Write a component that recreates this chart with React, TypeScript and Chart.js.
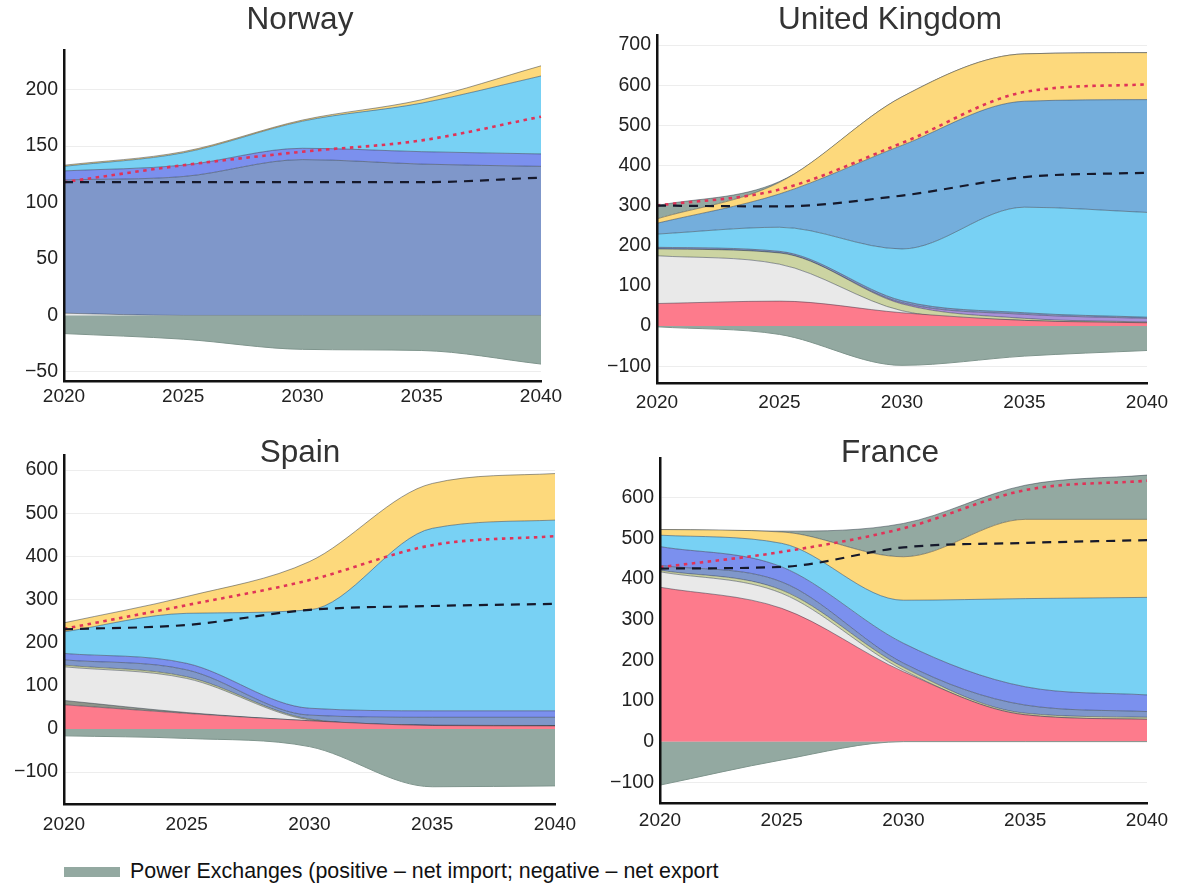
import React, { useEffect, useRef } from "react";
import { Chart, registerables } from "chart.js";

Chart.register(...registerables);
const FONT_FAMILY = "'Liberation Sans', Arial, sans-serif";
Chart.defaults.font.family = FONT_FAMILY;

// Years on the horizontal axis
const years = ["2020", "2025", "2030", "2035", "2040"];

// Norway (TWh)
const noGas = [2, 0, 0, 0, 0];
const noHydro = [118, 123, 138, 134, 132];
const noStorage = [8, 10, 10, 11, 11];
const noWindOn = [4, 11, 24, 43, 69];
const noSolar = [1, 1, 1, 3, 9];
const noExport = [-16, -21, -30, -31, -43];
const noDemand = [118, 118, 118, 118, 122];
const noDemandHigh = [118, 133, 145, 155, 176];
const noTicks = [-50, 0, 50, 100, 150, 200];

// United Kingdom (TWh)
const ukNuclear = [56, 62, 33, 14, 8];
const ukGas = [119, 92, 5, 0, 0];
const ukBiomass = [17, 28, 17, 5, 2];
const ukOther = [0, 0, 3, 10, 9];
const ukHydro = [4, 4, 5, 4, 3];
const ukWindOn = [33, 60, 129, 263, 261];
const ukWindOff = [27, 83, 258, 264, 281];
const ukSolar = [11, 29, 121, 118, 117];
const ukImport = [33, 2, 0, 0, 0];
const ukExport = [-2, -21, -98, -75, -61];
const ukDemand = [300, 298, 325, 371, 382];
const ukDemandHigh = [300, 340, 456, 583, 602];
const ukTicks = [-100, 0, 100, 200, 300, 400, 500, 600, 700];

// Spain (TWh)
const esNuclear = [56, 36, 19, 8, 7];
const esCoal = [10, 2, 0, 0, 0];
const esGas = [78, 79, 2, 0, 0];
const esBiomass = [4, 4, 2, 1, 1];
const esHydro = [12, 16, 9, 18, 19];
const esStorage = [15, 15, 16, 15, 15];
const esWindOn = [50, 116, 228, 423, 442];
const esSolar = [21, 39, 112, 104, 108];
const esExport = [-16, -22, -41, -134, -132];
const esDemand = [231, 241, 276, 285, 290];
const esDemandHigh = [232, 287, 345, 426, 447];
const esTicks = [-100, 0, 100, 200, 300, 400, 500, 600];

// France (TWh)
const frNuclear = [380, 328, 172, 66, 55];
const frGas = [38, 37, 4, 0, 0];
const frBiomass = [4, 8, 7, 4, 5];
const frHydro = [12, 20, 10, 20, 14];
const frStorage = [46, 37, 49, 45, 41];
const frWindOn = [28, 58, 106, 217, 240];
const frSolar = [14, 28, 107, 195, 192];
const frImport = [0, 2, 82, 84, 109];
const frExport = [-107, -45, 0, 0, 0];
const frDemand = [426, 430, 478, 489, 496];
const frDemandHigh = [429, 467, 525, 619, 642];
const frTicks = [-100, 0, 100, 200, 300, 400, 500, 600];

const COLORS = {
  exchange: "#93a9a1",
  nuclear: "#fd7b8c",
  coal: "#8e948a",
  gas: "#e9e9e9",
  biomass: "#ccd4a2",
  other: "#a891d8",
  hydro: "#7f97ca",
  storage: "#7b90ee",
  windOn: "#78d1f4",
  windOff: "#74aedc",
  solar: "#fdd97c",
};

const EDGE = "rgba(45,55,70,0.55)";
const LEGEND_TEXT = "Power Exchanges (positive \u2013 net import; negative \u2013 net export";

// Panel heading drawn at a fixed point of the canvas, so it can sit over the plot's top edge
const panelTitle = {
  id: "panelTitle",
  afterDraw(chart: any, _args: any, opts: any) {
    if (!opts || !opts.text) return;
    const ctx = chart.ctx;
    ctx.save();
    ctx.font = `normal ${opts.size}px ${FONT_FAMILY}`;
    ctx.fillStyle = opts.color;
    ctx.textAlign = "center";
    ctx.textBaseline = "middle";
    ctx.fillText(opts.text, opts.x, opts.y);
    ctx.restore();
  },
};

type Series = { label: string; data: number[]; color: string };

type PanelSpec = {
  title: string;
  left: number;
  top: number;
  width: number;
  height: number;
  titleY: number;
  plotTop: number;
  yAxisWidth: number;
  xAxisHeight: number;
  xLabelPad: number;
  padRight: number;
  min: number;
  max: number;
  ticks: number[];
  stack: Series[];
  exports: number[];
  demand: number[];
  demandHigh: number[];
};

const fmt = (v: number) => (v < 0 ? "\u2212" + Math.abs(v) : String(v));

function buildConfig(p: PanelSpec): any {
  const lineBase = {
    fill: false,
    pointRadius: 0,
    cubicInterpolationMode: "monotone",
  };
  const datasets: any[] = [
    {
      ...lineBase,
      label: "Demand",
      data: p.demand,
      stack: "demand",
      borderColor: "#16192b",
      borderWidth: 2.2,
      borderDash: [9, 7],
    },
    {
      ...lineBase,
      label: "Demand (electrification)",
      data: p.demandHigh,
      stack: "demandHigh",
      borderColor: "#e03358",
      borderWidth: 2.6,
      borderDash: [3.5, 4.5],
    },
    {
      label: "Power Exchanges",
      data: p.exports,
      stack: "exports",
      fill: "origin",
      backgroundColor: COLORS.exchange,
      borderColor: "#7f958d",
      borderWidth: 1,
      pointRadius: 0,
      cubicInterpolationMode: "monotone",
    },
  ];
  p.stack.forEach((s, i) => {
    datasets.push({
      label: s.label,
      data: s.data,
      stack: "mix",
      fill: i === 0 ? "origin" : "-1",
      backgroundColor: s.color,
      borderColor: EDGE,
      borderWidth: 0.9,
      pointRadius: 0,
      cubicInterpolationMode: "monotone",
    });
  });

  return {
    type: "line",
    data: { labels: years, datasets },
    plugins: [panelTitle],
    options: {
      responsive: false,
      animation: false,
      events: [],
      layout: { padding: { left: 0, right: p.padRight, top: p.plotTop, bottom: 0 } },
      plugins: {
        legend: { display: false },
        tooltip: { enabled: false },
        title: { display: false },
        panelTitle: {
          text: p.title,
          x: p.width / 2,
          y: p.titleY,
          size: 31.5,
          color: "#333333",
        },
      },
      scales: {
        x: {
          grid: { display: false, drawTicks: false },
          border: { display: true, color: "#111111", width: 2.5, z: 1 },
          ticks: {
            color: "#222222",
            font: { size: 19 },
            padding: p.xLabelPad,
            maxRotation: 0,
            autoSkip: false,
          },
          afterFit: (s: any) => {
            s.height = p.xAxisHeight;
          },
        },
        y: {
          stacked: true,
          min: p.min,
          max: p.max,
          afterBuildTicks: (s: any) => {
            s.ticks = p.ticks.map((v) => ({ value: v }));
          },
          afterFit: (s: any) => {
            s.width = p.yAxisWidth;
          },
          grid: { color: "#ededed", lineWidth: 1, drawTicks: false },
          border: { display: true, color: "#111111", width: 2.5, z: 1 },
          ticks: {
            color: "#222222",
            font: { size: 19.5 },
            padding: 6,
            callback: (v: any) => fmt(Number(v)),
          },
        },
      },
    },
  };
}

const panels: PanelSpec[] = [
  {
    title: "Norway",
    left: 0,
    top: 0,
    width: 600,
    height: 420,
    titleY: 20,
    plotTop: 50,
    yAxisWidth: 64,
    xAxisHeight: 39,
    xLabelPad: 4,
    padRight: 59,
    min: -58,
    max: 235,
    ticks: noTicks,
    stack: [
      { label: "Gas", data: noGas, color: COLORS.gas },
      { label: "Hydro", data: noHydro, color: COLORS.hydro },
      { label: "Storage", data: noStorage, color: COLORS.storage },
      { label: "Wind", data: noWindOn, color: COLORS.windOn },
      { label: "Solar", data: noSolar, color: COLORS.solar },
    ],
    exports: noExport,
    demand: noDemand,
    demandHigh: noDemandHigh,
  },
  {
    title: "United Kingdom",
    left: 590,
    top: 0,
    width: 600,
    height: 420,
    titleY: 20,
    plotTop: 35,
    yAxisWidth: 67,
    xAxisHeight: 37,
    xLabelPad: 8,
    padRight: 43,
    min: -142,
    max: 725,
    ticks: ukTicks,
    stack: [
      { label: "Nuclear", data: ukNuclear, color: COLORS.nuclear },
      { label: "Gas", data: ukGas, color: COLORS.gas },
      { label: "Biomass", data: ukBiomass, color: COLORS.biomass },
      { label: "Other", data: ukOther, color: COLORS.other },
      { label: "Hydro", data: ukHydro, color: COLORS.hydro },
      { label: "Wind onshore", data: ukWindOn, color: COLORS.windOn },
      { label: "Wind offshore", data: ukWindOff, color: COLORS.windOff },
      { label: "Solar", data: ukSolar, color: COLORS.solar },
      { label: "Imports", data: ukImport, color: COLORS.exchange },
    ],
    exports: ukExport,
    demand: ukDemand,
    demandHigh: ukDemandHigh,
  },
  {
    title: "Spain",
    left: 0,
    top: 430,
    width: 600,
    height: 415,
    titleY: 23,
    plotTop: 25,
    yAxisWidth: 64,
    xAxisHeight: 41,
    xLabelPad: 9,
    padRight: 45,
    min: -174,
    max: 635,
    ticks: esTicks,
    stack: [
      { label: "Nuclear", data: esNuclear, color: COLORS.nuclear },
      { label: "Coal", data: esCoal, color: COLORS.coal },
      { label: "Gas", data: esGas, color: COLORS.gas },
      { label: "Biomass", data: esBiomass, color: COLORS.biomass },
      { label: "Hydro", data: esHydro, color: COLORS.hydro },
      { label: "Storage", data: esStorage, color: COLORS.storage },
      { label: "Wind", data: esWindOn, color: COLORS.windOn },
      { label: "Solar", data: esSolar, color: COLORS.solar },
    ],
    exports: esExport,
    demand: esDemand,
    demandHigh: esDemandHigh,
  },
  {
    title: "France",
    left: 590,
    top: 430,
    width: 600,
    height: 415,
    titleY: 23,
    plotTop: 28,
    yAxisWidth: 70,
    xAxisHeight: 42,
    xLabelPad: 6,
    padRight: 43,
    min: -151,
    max: 698,
    ticks: frTicks,
    stack: [
      { label: "Nuclear", data: frNuclear, color: COLORS.nuclear },
      { label: "Gas", data: frGas, color: COLORS.gas },
      { label: "Biomass", data: frBiomass, color: COLORS.biomass },
      { label: "Hydro", data: frHydro, color: COLORS.hydro },
      { label: "Storage", data: frStorage, color: COLORS.storage },
      { label: "Wind", data: frWindOn, color: COLORS.windOn },
      { label: "Solar", data: frSolar, color: COLORS.solar },
      { label: "Imports", data: frImport, color: COLORS.exchange },
    ],
    exports: frExport,
    demand: frDemand,
    demandHigh: frDemandHigh,
  },
];

function Panel({ spec }: { spec: PanelSpec }) {
  const ref = useRef<HTMLCanvasElement>(null);
  useEffect(() => {
    if (!ref.current) return;
    const chart = new Chart(ref.current, buildConfig(spec));
    return () => chart.destroy();
  }, [spec]);
  return (
    <canvas
      ref={ref}
      width={spec.width}
      height={spec.height}
      style={{
        position: "absolute",
        left: spec.left,
        top: spec.top,
        width: spec.width,
        height: spec.height,
      }}
    />
  );
}

export default function App() {
  return (
    <div
      style={{
        position: "absolute",
        left: 0,
        top: 0,
        width: 1195,
        height: 884,
        background: "#ffffff",
        overflow: "hidden",
      }}
    >
      {panels.map((p) => (
        <Panel key={p.title} spec={p} />
      ))}
      <div
        style={{
          position: "absolute",
          left: 64,
          top: 861,
          display: "flex",
          alignItems: "center",
          fontFamily: FONT_FAMILY,
          fontSize: 21.4,
          lineHeight: "21px",
          color: "#111111",
          whiteSpace: "nowrap",
        }}
      >
        <span
          style={{
            display: "inline-block",
            width: 56,
            height: 10,
            background: COLORS.exchange,
            marginRight: 10,
          }}
        />
        <span>{LEGEND_TEXT}</span>
      </div>
    </div>
  );
}
